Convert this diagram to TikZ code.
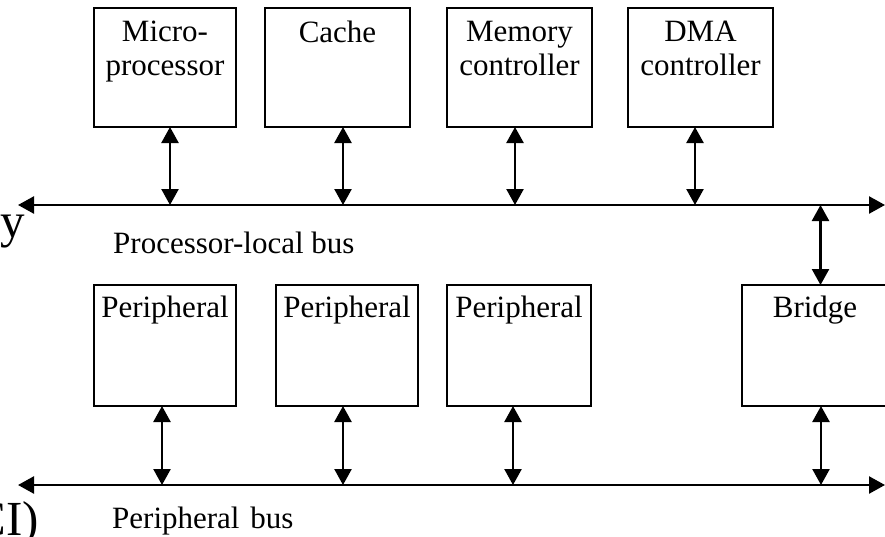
\documentclass[tikz,border=0pt]{standalone}
\usepackage{fontspec}
\setmainfont{Liberation Serif}
\usetikzlibrary{arrows.meta}
\begin{document}
\begin{tikzpicture}[x=1pt,y=-1pt,
  box/.style={draw, line width=2.4pt, minimum height=119pt, inner sep=0pt, outer sep=0pt},
  lowbox/.style={box, minimum height=121pt},
  boxtxt/.style={anchor=north, align=center, inner sep=0pt, font=\fontsize{31}{34}\selectfont},
  buslbl/.style={anchor=base west, inner sep=0pt, font=\fontsize{31}{34}\selectfont},
  biglbl/.style={inner sep=0pt, font=\fontsize{49}{55}\selectfont},
  tip/.style={Triangle[length=16pt,width=17pt]},
  bus/.style={line width=2.4pt, {Triangle[length=16pt,width=17pt]}-{Triangle[length=16pt,width=17pt]}},
  biarrow/.style={line width=2.4pt, {Triangle[length=16pt,width=17pt]}-{Triangle[length=16pt,width=17pt]}}
]
\useasboundingbox (0,0) rectangle (885,536);
\clip (0,0) rectangle (885,536);

% top row
\node[box, minimum width=142pt] (micro) at (165,67.5) {};
\node[box, minimum width=145pt] (cache) at (337.5,67.5) {};
\node[box, minimum width=145pt] (mem) at (519.5,67.5) {};
\node[box, minimum width=145pt] (dma) at (700.5,67.5) {};
\node[boxtxt] (microT) at ([yshift=-13pt]micro.north) {Micro-\\processor};
\node[boxtxt] (cacheT) at ([yshift=-13pt]cache.north) {Cache};
\node[boxtxt] (memT) at ([yshift=-13pt]mem.north) {Memory\\controller};
\node[boxtxt] (dmaT) at ([yshift=-13pt]dma.north) {DMA\\controller};

% bottom row
\node[lowbox, minimum width=142pt] (p1) at (165,345.5) {};
\node[lowbox, minimum width=142pt] (p2) at (347,345.5) {};
\node[lowbox, minimum width=144pt] (p3) at (519,345.5) {};
\node[lowbox, minimum width=180pt] (bridge) at (832,345.5) {};
\node[boxtxt] (bridgeT) at (815,296) {Bridge};
\node[boxtxt] (p1T) at ([yshift=-11pt]p1.north) {Peripheral};
\node[boxtxt] (p2T) at ([yshift=-11pt]p2.north) {Peripheral};
\node[boxtxt] (p3T) at ([yshift=-11pt]p3.north) {Peripheral};

% buses
\coordinate (tbL) at (18,205);
\coordinate (tbR) at (885,205);
\coordinate (bbL) at (18,485);
\coordinate (bbR) at (885,485);
\draw[bus] (tbL) -- (tbR);
\draw[bus] (bbL) -- (bbR);

\node[buslbl] (plb) at (113,253) {Processor-local bus};
\node[buslbl] (pb) at (112,528) {Peripheral\hspace{3pt} bus};

% connectors to processor-local bus
\draw[biarrow] ([xshift=5pt]micro.south) -- ([xshift=5pt]micro.south |- tbL);
\draw[biarrow] ([xshift=5.5pt]cache.south) -- ([xshift=5.5pt]cache.south |- tbL);
\draw[biarrow] ([xshift=-4.5pt]mem.south) -- ([xshift=-4.5pt]mem.south |- tbL);
\draw[biarrow] ([xshift=-5.5pt]dma.south) -- ([xshift=-5.5pt]dma.south |- tbL);
\draw[biarrow] ([xshift=-11.5pt]bridge.north) -- ([xshift=-11.5pt]bridge.north |- tbL);

% connectors to peripheral bus
\draw[biarrow] ([xshift=-3pt]p1.south) -- ([xshift=-3pt]p1.south |- bbL);
\draw[biarrow] ([xshift=-4pt]p2.south) -- ([xshift=-4pt]p2.south |- bbL);
\draw[biarrow] ([xshift=-6pt]p3.south) -- ([xshift=-6pt]p3.south |- bbL);
\draw[biarrow] ([xshift=-11pt]bridge.south) -- ([xshift=-11pt]bridge.south |- bbL);

% cropped side labels
\node[biglbl, anchor=base west] (yl) at (0,237) {y};
\node[biglbl, anchor=base east] (pcil) at (39,535) {CI)};
\end{tikzpicture}
\end{document}
